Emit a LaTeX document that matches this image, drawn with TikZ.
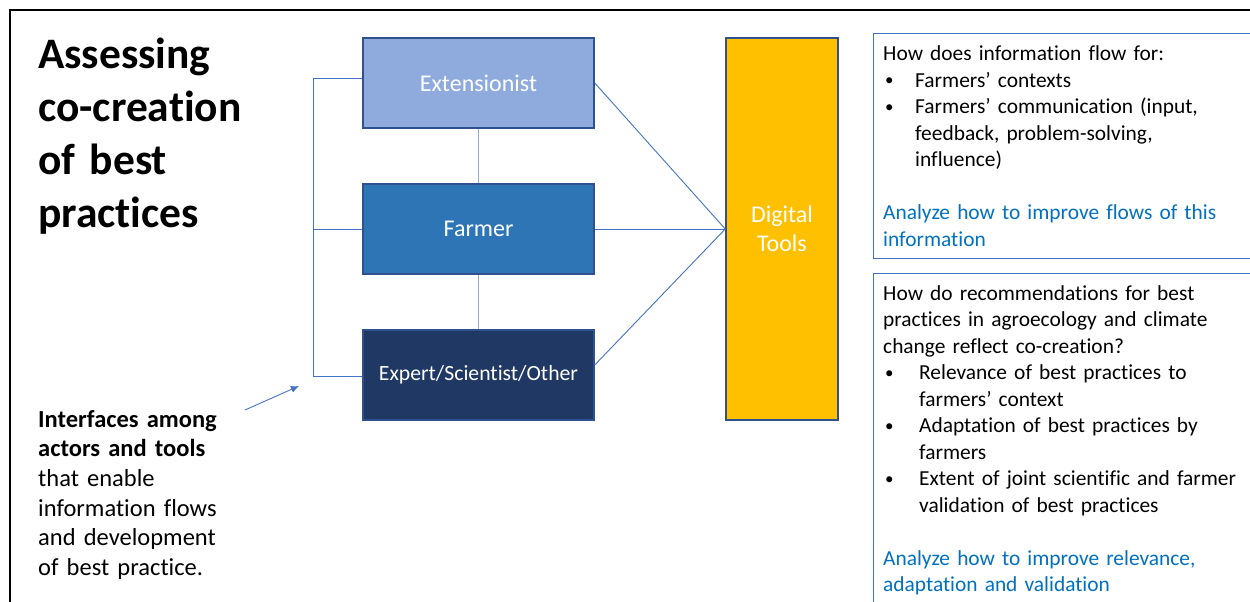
\documentclass[tikz,border=0pt]{standalone}
\usepackage{fontspec}
\setmainfont{Carlito}[Ligatures={TeX,NoCommon}]
\usepackage{xcolor}
\usepackage{tikz}
\usetikzlibrary{arrows.meta}

\definecolor{extblue}{HTML}{8FAADC}
\definecolor{farmblue}{HTML}{2E75B6}
\definecolor{expblue}{HTML}{203864}
\definecolor{toolgold}{HTML}{FFC000}
\definecolor{edgeblue}{HTML}{2F528F}
\definecolor{linkblue}{HTML}{4472C4}
\definecolor{askblue}{HTML}{0070C0}

% bullet line with hanging indent
\newcommand{\bul}[2]{\par\hangindent=#1\hangafter=1\noindent\hbox to #1{\hskip2pt\raisebox{1.5pt}{\fontsize{17}{17}\selectfont\textbullet}\hfil}#2}

\begin{document}
\begin{tikzpicture}[x=1pt,y=-1pt,
	actor/.style={draw=edgeblue, line width=1.5pt, minimum width=231pt, minimum height=90pt, inner sep=0pt, text=white},
	tool/.style={draw=edgeblue, line width=1.5pt, fill=toolgold, minimum width=112pt, minimum height=382pt, inner sep=0pt, text=white, align=center, font=\fontsize{24}{28.5}\selectfont},
	link/.style={draw=linkblue, line width=0.9pt},
	notebox/.style={draw=linkblue, line width=1pt, anchor=north west, minimum width=420pt, inner sep=0pt},
	notetext/.style={anchor=base west, text width=365pt, align=left, inner sep=0pt, font=\fontsize{21.4}{26.5}\selectfont}]
		\clip (0,0) rectangle (1250,602);
		\draw[line width=2pt] (10,620) -- (10,10) -- (1270,10);
		%
		\node[anchor=base west, text width=300pt, align=left, inner sep=0pt, font=\fontsize{43.5}{53}\selectfont\bfseries] (heading) at (38,69) {Assessing\\co-creation\\of best\\practices};
		\node[anchor=base west, text width=230pt, align=left, inner sep=0pt, font=\fontsize{24.5}{29.7}\selectfont] (iface) at (38,427) {\textbf{Interfaces among}\\\textbf{actors and tools}\\that enable\\information flows\\and development\\of best practice.};
		%
		\node[actor, fill=extblue, font=\fontsize{24}{29}\selectfont] (ext) at (478.5,83) {Extensionist};
		\node[actor, fill=farmblue, font=\fontsize{24}{29}\selectfont] (farmer) at (478.5,229) {Farmer};
		\node[actor, fill=expblue, font=\fontsize{21.7}{26}\selectfont] (expert) at (478.5,375) {Expert/Scientist/Other};
		\node[tool] (tools) at (782,229) {Digital\\Tools};
		%
		\draw[draw=extblue, line width=1.5pt] (ext.south) -- (farmer.north);
		\draw[draw=extblue, line width=1.5pt] (farmer.south) -- (expert.north);
		\path[link]
		(ext.east) edge (tools.west)
		(farmer.east) edge (tools.west)
		([yshift=10pt]expert.east) edge (tools.west);
		%
		\coordinate (btop) at (313,78);
		\coordinate (bbot) at (313,376);
		\draw[link] (ext.west |- btop) -- (btop) -- (bbot) -- (expert.west |- bbot);
		\draw[link] (farmer.west) -- (farmer.west -| btop);
		\coordinate (atail) at (245,410);
		\coordinate (ahead) at (299,386);
		\draw[link, -{Latex[length=8pt,width=7pt]}] (atail) -- (ahead);
		%
		\node[notebox, minimum height=225pt] (flowbox) at (873,33) {};
		\node[notetext] (flowtext) at (883,60.5) {How does information flow for:
			\bul{32pt}{Farmers’ contexts}
			\bul{32pt}{Farmers’ communication (input,\newline feedback, problem-solving,\newline influence)}
			\par\vskip26.5pt
			\noindent{\color{askblue}Analyze how to improve flows of this\newline information}};
		\node[notebox, minimum height=400pt] (bestbox) at (873,273) {};
		\node[notetext] (besttext) at (883,300) {How do recommendations for best\newline practices in agroecology and climate\newline change reflect co-creation?
			\bul{36pt}{Relevance of best practices to\newline farmers’ context}
			\bul{36pt}{Adaptation of best practices by\newline farmers}
			\bul{36pt}{Extent of joint scientific and farmer\newline validation of best practices}
			\par\vskip26.5pt
			\noindent{\color{askblue}Analyze how to improve relevance,\newline adaptation and validation}};
\end{tikzpicture}
\end{document}
